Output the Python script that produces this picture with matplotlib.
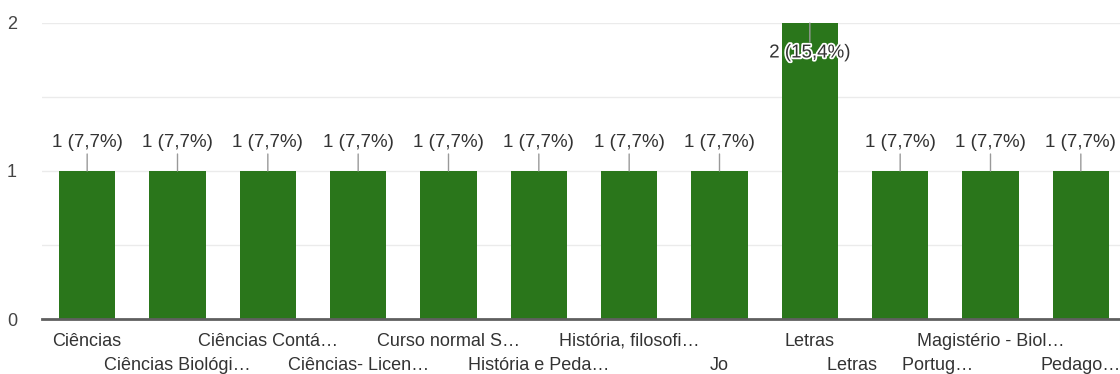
import matplotlib.pyplot as plt
import matplotlib.patheffects as pe

plt.rcParams['font.family'] = ['Liberation Sans', 'DejaVu Sans']

categories = ['Ciências', 'Ciências Biológi…', 'Ciências Contá…', 'Ciências- Licen…',
              'Curso normal S…', 'História e Peda…', 'História, filosofi…', 'Jo',
              'Letras', 'Letras     Portug…', 'Magistério - Biol…', 'Pedago…']
counts = [1, 1, 1, 1, 1, 1, 1, 1, 2, 1, 1, 1]
labels = ['1 (7,7%)'] * 8 + ['2 (15,4%)'] + ['1 (7,7%)'] * 3

green = '#2a761b'
fig = plt.figure(figsize=(11.2, 3.74), dpi=100)
ax = fig.add_axes([42 / 1120, 1 - 319 / 374, 1084 / 1120, 296 / 374])

x = range(len(categories))
ax.bar(x, counts, width=0.62, color=green, zorder=2)
ax.set_xlim(-0.5, len(categories) - 0.5)
ax.set_ylim(0, 2)
ax.set_yticks([0, 1, 2])
ax.set_yticks([0.5, 1.5], minor=True)
ax.tick_params(axis='y', which='both', length=0, labelsize=13, labelcolor='#444444', pad=18)
ax.tick_params(axis='x', length=0)
ax.set_xticks([])
ax.grid(axis='y', which='both', color='#ebebeb', linewidth=1, zorder=0)
for side in ['top', 'right', 'left']:
    ax.spines[side].set_visible(False)
ax.spines['bottom'].set_color('#5f5f5f')
ax.spines['bottom'].set_linewidth(2)
ax.spines['bottom'].set_zorder(3)

for i, (c, lab) in enumerate(zip(counts, labels)):
    if c < 2:
        ax.annotate('', xy=(i, c), xytext=(0, 17), textcoords='offset pixels',
                    arrowprops=dict(arrowstyle='-', color='#999999', lw=1, shrinkA=0, shrinkB=0))
        ax.annotate(lab, xy=(i, c), xytext=(0, 28), textcoords='offset pixels',
                    ha='center', va='center', fontsize=13.5, color='#333333')
    else:
        ax.annotate('', xy=(i, c), xytext=(0, -19), textcoords='offset pixels',
                    arrowprops=dict(arrowstyle='-', color='#999999', lw=1, shrinkA=0, shrinkB=0))
        ax.annotate(lab, xy=(i, c), xytext=(0, -30), textcoords='offset pixels',
                    ha='center', va='center', fontsize=13.5, color='#333333', zorder=5,
                    path_effects=[pe.withStroke(linewidth=2.5, foreground='white')])

for i, cat in enumerate(categories):
    off = -22 if i % 2 == 0 else -47
    ax.annotate(cat, xy=(i, 0), xytext=(0, off), textcoords='offset pixels',
                ha='center', va='center', fontsize=13, color='#333333', annotation_clip=False)

fig.savefig('out.png', dpi=100)
